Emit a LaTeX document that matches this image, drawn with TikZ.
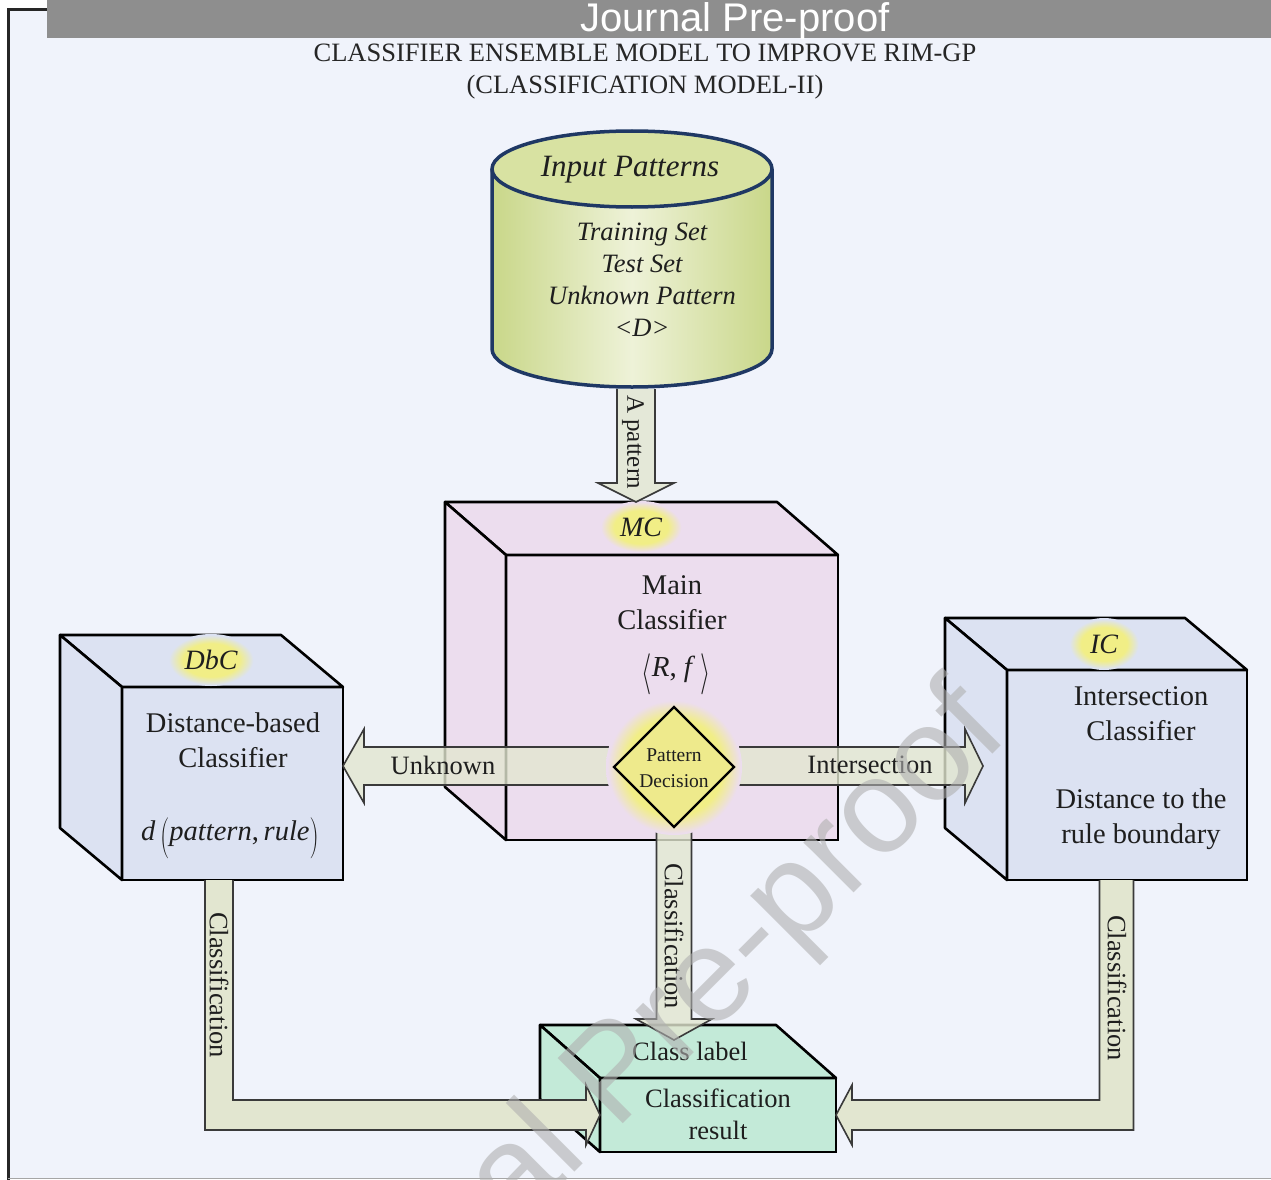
\documentclass[tikz,border=0pt]{standalone}
\usepackage{fontspec}
\usepackage{graphicx}
\setmainfont{Liberation Serif}
\newfontfamily\arialf{Liberation Sans}
\usetikzlibrary{calc,shapes.geometric}

\definecolor{bgc}{HTML}{F0F3FB}
\definecolor{bannerc}{HTML}{8E8E8E}
\definecolor{navy}{HTML}{1F3864}
\definecolor{cylA}{HTML}{C9D789}
\definecolor{cylB}{HTML}{EEF2D8}
\definecolor{cyltop}{HTML}{D8E2A2}
\definecolor{mcfill}{HTML}{ECDDEE}
\definecolor{bluefill}{HTML}{DCE2F2}
\definecolor{greenfill}{HTML}{C3EAD8}
\definecolor{arrfill}{HTML}{E2E6D0}
\definecolor{arrline}{HTML}{3A3A3A}
\definecolor{diafill}{HTML}{EEEA8C}
\definecolor{glow}{HTML}{F1EE86}
\definecolor{txt}{HTML}{1E1E1E}
\definecolor{wm}{HTML}{B0B0B0}

\pgfdeclareradialshading{glowmc}{\pgfpoint{0bp}{0bp}}{color(0bp)=(glow); color(16bp)=(glow); color(24bp)=(mcfill); color(50bp)=(mcfill)}
\pgfdeclareradialshading{glowbl}{\pgfpoint{0bp}{0bp}}{color(0bp)=(glow); color(16bp)=(glow); color(24bp)=(bluefill); color(50bp)=(bluefill)}
\pgfdeclareradialshading{glowdia}{\pgfpoint{0bp}{0bp}}{color(0bp)=(glow); color(18bp)=(glow); color(24.5bp)=(mcfill); color(50bp)=(mcfill)}

\tikzset{
  frontface/.style={draw=black, line width=2.6pt, rectangle, inner sep=0pt, outer sep=0pt},
  sideface/.style={draw=black, line width=2.6pt, line join=round},
  barrow/.style={fill=arrfill, fill opacity=0.8, draw=arrline, line width=1.6pt, line join=miter},
  boxtxt/.style={font=\fontsize{28.5}{35}\selectfont, align=center},
  lbltxt/.style={font=\itshape\fontsize{28}{30}\selectfont},
  arrtxt/.style={font=\fontsize{26.5}{30}\selectfont},
}

\newcommand\tallbr[1]{\raisebox{-0.28em}{\scalebox{1.05}[1.65]{\(#1\)}}}

% cube: name, cx, cy, w, h, dx, dy, colour
\newcommand\mycube[8]{%
  \node[frontface, fill=#8, minimum width=#4pt, minimum height=#5pt] (#1) at (#2,#3) {};
  \filldraw[sideface, fill=#8] (#1.north west) -- ++(-#6,-#7) -- ($(#1.north east)+(-#6,-#7)$) -- (#1.north east) -- cycle;
  \filldraw[sideface, fill=#8] (#1.north west) -- ++(-#6,-#7) -- ($(#1.south west)+(-#6,-#7)$) -- (#1.south west) -- cycle;
}
% vertical down arrow: start, tip, half shaft, half head, head length
\newcommand\vdarrow[5]{%
  \filldraw[barrow] ($(#1)+(-#3,0)$) -- ($(#2)+(-#3,-#5)$) -- ($(#2)+(-#4,-#5)$) -- (#2) -- ($(#2)+(#4,-#5)$) -- ($(#2)+(#3,-#5)$) -- ($(#1)+(#3,0)$);
}
% horizontal arrow: start, tip, half shaft, half head, head length (signed)
\newcommand\hzarrow[5]{%
  \filldraw[barrow] ($(#1)+(0,-#3)$) -- ($(#2)+(#5,-#3)$) -- ($(#2)+(#5,-#4)$) -- (#2) -- ($(#2)+(#5,#4)$) -- ($(#2)+(#5,#3)$) -- ($(#1)+(0,#3)$);
}

\begin{document}
\begin{tikzpicture}[x=1pt,y=-1pt, every node/.style={inner sep=0pt, outer sep=0pt, text=txt}]
\useasboundingbox (0,0) rectangle (1271,1180);
% background and frame
\fill[white] (0,0) rectangle (1271,1180);
\fill[bgc] (8,10) rectangle (1271,1178);
\draw[black!85, line width=3pt] (8,1180) -- (8,10) -- (48,10);
\draw[black!35, line width=1.5pt] (8,1178.5) -- (1271,1178.5);
\fill[bannerc] (47,0) rectangle (1271,38);
\node[anchor=base, text=white, font=\arialf\fontsize{40}{40}\selectfont] (banner) at (735,32) {Journal Pre-proof};

% title
\node[font=\fontsize{26.5}{32}\selectfont, text=black!85, align=center] (title) at (645,72) {CLASSIFIER ENSEMBLE MODEL TO IMPROVE RIM-GP\\(CLASSIFICATION MODEL-II)};

% cylinder
\shade[left color=cylA, right color=cylA, middle color=cylB] (492,169) -- (492,349) arc[start angle=180, end angle=0, x radius=140, y radius=38] -- (772,169) arc[start angle=0, end angle=180, x radius=140, y radius=38] -- cycle;
\fill[cyltop] (632,169) ellipse [x radius=140, y radius=38];
\draw[navy, line width=3.5pt] (492,169) -- (492,349) arc[start angle=180, end angle=0, x radius=140, y radius=38] -- (772,169);
\draw[navy, line width=3.5pt] (632,169) ellipse [x radius=140, y radius=38];
\node[font=\itshape\fontsize{31}{33}\selectfont] (inp) at (630,170) {Input Patterns};
\node[font=\itshape\fontsize{26.5}{32}\selectfont, align=center] (sets) at (642,280) {Training Set\\Test Set\\Unknown Pattern\\{<}D{>}};
\coordinate (dbS) at (636,389);

% boxes
\mycube{mc}{672}{697.5}{332}{285}{61}{53}{mcfill}
\mycube{dbc}{232.5}{783.5}{221}{193}{62}{52}{bluefill}
\mycube{ic}{1127}{775}{240}{210}{62}{52}{bluefill}
\mycube{cls}{718}{1115}{236}{74}{60}{53}{greenfill}

% labels with glow
\shade[shading=glowmc] (641,527) ellipse [x radius=42, y radius=26];
\node[lbltxt] (mcl) at (641,527) {MC};
\shade[shading=glowbl] (211,660) ellipse [x radius=44, y radius=26];
\node[lbltxt] (dbcl) at (211,660) {DbC};
\shade[shading=glowbl] (1104,644) ellipse [x radius=36, y radius=26];
\node[lbltxt] (icl) at (1104,644) {IC};

\node[boxtxt] (mct) at (672,603) {Main\\Classifier};
\node[font=\fontsize{29}{33}\selectfont] (rf) at (676,674) {\tallbr{\langle}\textit{R}, \textit{f}\,\tallbr{\rangle}};
\node[boxtxt] (dbct) at (233,740) {Distance-based\\Classifier};
\node[font=\fontsize{28.5}{33}\selectfont] (dpr) at (230,838) {\textit{d}\,\tallbr{(}\textit{pattern},\,\textit{rule}\tallbr{)}};
\node[boxtxt] (ict) at (1141,714) {Intersection\\Classifier};
\node[boxtxt] (ict2) at (1141,819) {Distance to the\\rule boundary};
\node[font=\fontsize{26.5}{30}\selectfont] (clsl) at (690,1051) {Class label};
\node[font=\fontsize{26.5}{32}\selectfont, align=center] (clsr) at (718,1114) {Classification\\result};

% coordinates for connectors
\coordinate (pd) at (674,767);
\coordinate (mctop) at (636,502);
\coordinate (ukS) at (614,766);
\coordinate (ukT) at (dbc.east |- ukS);
\coordinate (inS) at (734,766);
\coordinate (inT) at ($(ic.west |- inS)+(-24,0)$);
\coordinate (clS) at (674,822);
\coordinate (clT) at (674,1040);
\coordinate (lS) at ($(dbc.south)+(-13.5,0)$);
\coordinate (lT) at (cls.west);
\coordinate (lC) at (lS |- lT);
\coordinate (rS) at ($(ic.south)+(-10.5,0)$);
\coordinate (rT) at (cls.east);
\coordinate (rC) at (rS |- rT);

% connectors
\vdarrow{dbS}{mctop}{19}{38}{19}
\hzarrow{ukS}{ukT}{19}{37}{21}
\hzarrow{inS}{inT}{19}{37}{-18}
\vdarrow{clS}{clT}{17.5}{38}{21}
\filldraw[barrow, fill opacity=1] ($(lS)+(-14,0)$) -- ($(lC)+(-14,15)$) -- ($(lT)+(-14,15)$) -- ($(lT)+(-14,30)$) -- (lT) -- ($(lT)+(-14,-30)$) -- ($(lT)+(-14,-15)$) -- ($(lC)+(14,-15)$) -- ($(lS)+(14,0)$);
\filldraw[barrow, fill opacity=1] ($(rS)+(-17,0)$) -- ($(rC)+(-17,-15)$) -- ($(rT)+(16,-15)$) -- ($(rT)+(16,-30)$) -- (rT) -- ($(rT)+(16,30)$) -- ($(rT)+(16,15)$) -- ($(rC)+(17,15)$) -- ($(rS)+(17,0)$);

% decision diamond
\shade[shading=glowdia] (pd) circle [radius=68];
\node[diamond, draw=black, line width=2.4pt, fill=diafill, minimum width=120pt, minimum height=120pt] (pdd) at (pd) {};
\node[font=\fontsize{19.5}{26}\selectfont, align=center] (pdt) at (674,768) {Pattern\\Decision};

% connector labels
\node[arrtxt] (ukl) at (443,765) {Unknown};
\node[arrtxt] (inl) at (870,765) {Intersection};
\node[arrtxt, rotate=-90, font=\fontsize{25}{30}\selectfont] (apl) at (633,442) {A pattern};
\node[arrtxt, rotate=-90, font=\fontsize{26.5}{30}\selectfont] (cll) at (674,936) {Classification};
\node[arrtxt, rotate=-90, font=\fontsize{26.5}{30}\selectfont] (lcl) at (219,985) {Classification};
\node[arrtxt, rotate=-90, font=\fontsize{26.5}{30}\selectfont] (rcl) at (1117,988) {Classification};

% watermark
\begin{scope}
\clip (0,0) rectangle (1271,1180);
\node[anchor=base, rotate=45, font=\arialf\fontsize{134}{134}\selectfont, text=wm, opacity=0.6] (wmk) at (645,1102) {Journal Pre-proof};
\end{scope}
\end{tikzpicture}
\end{document}
